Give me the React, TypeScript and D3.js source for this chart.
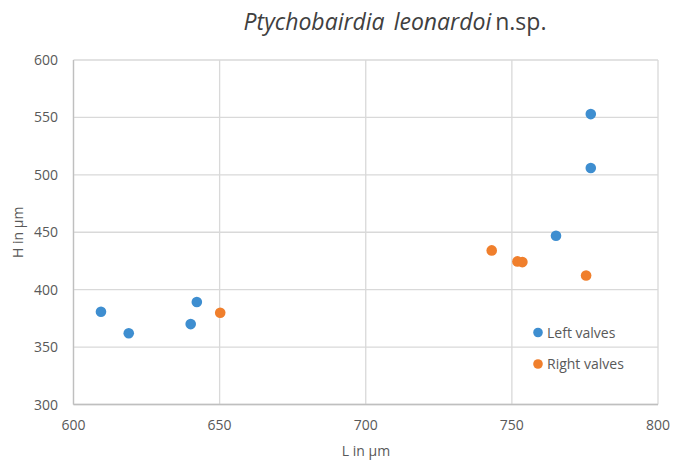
import React from "react";
import * as d3 from "d3";

const leftL = [609.4, 618.9, 640.1, 642.2, 765.1, 777, 777];
const leftH = [380.8, 362.1, 370, 389.2, 447, 552.9, 506];
const rightL = [650.2, 743.1, 751.9, 753.6, 775.4];
const rightH = [379.9, 434.2, 424.6, 424, 412.4];
const xTicks = [600, 650, 700, 750, 800];
const yTicks = [300, 350, 400, 450, 500, 550, 600];
const seriesNames = ["Left valves", "Right valves"];
const colors = ["#3e8ed0", "#f07f2c"];

const W = 674, H = 464;
const M = { left: 73.5, right: 658, top: 60, bottom: 404.5 };
const font = "'Open Sans', 'Noto Sans', sans-serif";
const textColor = "#595959";

export default function App() {
  const x = d3.scaleLinear().domain([600, 800]).range([M.left, M.right]);
  const y = d3.scaleLinear().domain([300, 600]).range([M.bottom, M.top]);
  const left = leftL.map((l, i) => ({ l, h: leftH[i] }));
  const right = rightL.map((l, i) => ({ l, h: rightH[i] }));
  return (
    <svg width={W} height={H} style={{ position: "absolute", left: 0, top: 0, background: "#fff" }} fontFamily={font}>
      <rect x={0} y={0} width={W} height={H} fill="#fff" />
      <text x={395} y={30} textAnchor="middle" fontSize={23} fill="#404040">
        <tspan fontStyle="italic">Ptychobairdia</tspan>
        <tspan fontStyle="italic" dx={9}>leonardoi</tspan>
        <tspan dx={4}>n.sp.</tspan>
      </text>
      {yTicks.map((t) => (
        <line key={"gy" + t} x1={M.left} x2={M.right} y1={y(t)} y2={y(t)} stroke="#d9d9d9" strokeWidth={1.3} />
      ))}
      {xTicks.map((t) => (
        <line key={"gx" + t} x1={x(t)} x2={x(t)} y1={M.top} y2={M.bottom} stroke="#d9d9d9" strokeWidth={1.3} />
      ))}
      <line x1={M.left} x2={M.right} y1={M.bottom} y2={M.bottom} stroke="#bfbfbf" strokeWidth={1.3} />
      <line x1={M.left} x2={M.left} y1={M.top} y2={M.bottom} stroke="#bfbfbf" strokeWidth={1.3} />
      {yTicks.map((t) => (
        <text key={"ty" + t} x={58} y={y(t) + 5} textAnchor="end" fontSize={14} fill={textColor}>{t}</text>
      ))}
      {xTicks.map((t) => (
        <text key={"tx" + t} x={x(t)} y={430} textAnchor="middle" fontSize={14} fill={textColor}>{t}</text>
      ))}
      <text x={366} y={456} textAnchor="middle" fontSize={14} fill={textColor}>L in µm</text>
      <text transform={`translate(23,${(M.top + M.bottom) / 2}) rotate(-90)`} textAnchor="middle" fontSize={14} fill={textColor}>H in µm</text>
      {left.map((d, i) => (
        <circle key={"l" + i} cx={x(d.l)} cy={y(d.h)} r={5.3} fill={colors[0]} />
      ))}
      {right.map((d, i) => (
        <circle key={"r" + i} cx={x(d.l)} cy={y(d.h)} r={5.3} fill={colors[1]} />
      ))}
      {seriesNames.map((n, i) => (
        <g key={n} transform={`translate(538,${332.5 + i * 31.5})`}>
          <circle cx={0} cy={0} r={4.8} fill={colors[i]} />
          <text x={9} y={5} fontSize={14} fill={textColor} fontWeight={500}>{n}</text>
        </g>
      ))}
    </svg>
  );
}
